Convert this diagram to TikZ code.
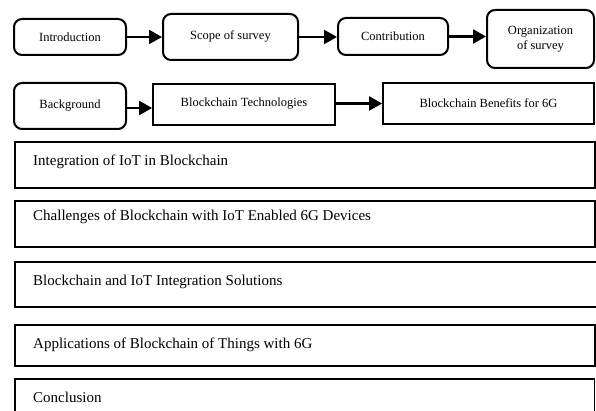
\documentclass[tikz,border=0pt]{standalone}
\usepackage{fontspec}
\setmainfont{Liberation Serif}
\usetikzlibrary{arrows.meta}
\begin{document}
\begin{tikzpicture}[x=1pt,y=-1pt,
  rbox/.style={draw, line width=2pt, rounded corners=8pt, inner sep=0pt, align=center,
    font=\fontsize{12.5}{15}\selectfont},
  sbox/.style={draw, line width=1.8pt, inner sep=0pt, align=center,
    font=\fontsize{12.5}{15}\selectfont},
  wbox/.style={draw, line width=1.8pt, inner sep=0pt, anchor=north west},
  wtext/.style={anchor=west, inner sep=0pt, font=\fontsize{15}{18}\selectfont},
  arr/.style={line width=2.2pt, -{Triangle[length=13pt,width=14pt]}}
]
\useasboundingbox (0,0) rectangle (596,411);
\clip (0,0) rectangle (596,411);
% row 1
\node[rbox, minimum width=112pt, minimum height=36pt] (intro) at (70,37) {Introduction};
\node[rbox, minimum width=135pt, minimum height=46pt] (scope) at (230.5,37) {\raisebox{3pt}{Scope of survey}};
\node[rbox, minimum width=110pt, minimum height=37pt] (contrib) at (393,36.5) {Contribution};
\node[rbox, minimum width=107pt, minimum height=58pt] (org) at (540.5,39) {Organization\\of survey};
% row 2
\node[rbox, minimum width=112pt, minimum height=46pt] (bg) at (70,106) {Background};
\node[sbox, minimum width=182pt, minimum height=41pt] (bt) at (244,104.5) {\raisebox{4pt}{Blockchain Technologies}};
\node[sbox, minimum width=211pt, minimum height=41pt] (bb) at (488.5,103.5) {Blockchain Benefits for 6G};
% arrows
\draw[arr] (intro.east) -- (intro.east -| scope.west);
\draw[arr] (scope.east) -- (scope.east -| contrib.west);
\draw[arr] (contrib.east) -- (contrib.east -| org.west);
\draw[arr] ([yshift=-2pt]bg.east) -- ([yshift=-2pt]bg.east -| bt.west);
\draw[arr] ([yshift=1pt]bt.east) -- ([yshift=1pt]bt.east -| bb.west);
% wide boxes
\node[wbox, minimum width=580pt, minimum height=46pt] (w1) at (14,141) {};
\node[wbox, minimum width=580pt, minimum height=46pt] (w2) at (14,200) {};
\node[wbox, minimum width=590pt, minimum height=45pt] (w3) at (14,261) {};
\node[wbox, minimum width=580pt, minimum height=41pt] (w4) at (14,324) {};
\node[wbox, minimum width=579.5pt, minimum height=50pt] (w5) at (14,378) {};
\node[wtext] (t1) at (33,162) {Integration of IoT in Blockchain};
\node[wtext] (t2) at (33,217) {Challenges of Blockchain with IoT Enabled 6G Devices};
\node[wtext] (t3) at (33,282) {Blockchain and IoT Integration Solutions};
\node[wtext] (t4) at (33,345) {Applications of Blockchain of Things with 6G};
\node[wtext] (t5) at (33,397) {Conclusion};
\end{tikzpicture}
\end{document}
